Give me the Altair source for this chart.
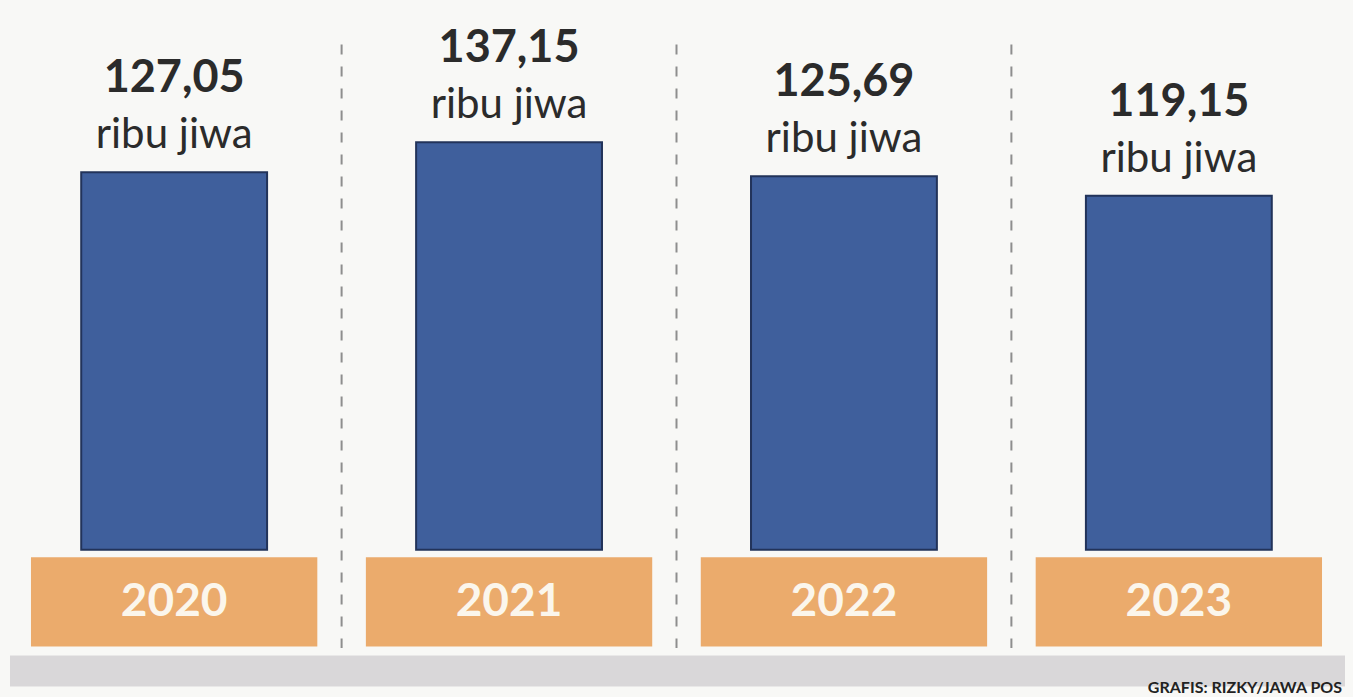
import altair as alt
import pandas as pd

years = ["2020", "2021", "2022", "2023"]
values = [127.05, 137.15, 125.69, 119.15]
value_labels = ["127,05", "137,15", "125,69", "119,15"]
unit_label = "ribu jiwa"
credit = "GRAFIS: RIZKY/JAWA POS"

df = pd.DataFrame({"year": years, "value": values, "label": value_labels, "unit": [unit_label] * 4})
sep = df.iloc[:3]

W, H = 1353, 697
yscale = alt.Scale(domain=[-49.5, 185], nice=False, zero=False)
xscale = alt.Scale(domain=years, paddingInner=0, paddingOuter=0.02)
X = alt.X("year:N", scale=xscale, axis=None)

base = alt.Chart(df)

strip = alt.Chart(df.iloc[:1]).mark_rect(color="#d9d7d9").encode(
    x=alt.value(10), x2=alt.value(1345),
    y=alt.Y(datum=-35.5, scale=yscale, axis=None), y2=alt.datum(-46)
)

seps = alt.Chart(sep).mark_rule(color="#8e8e8e", strokeDash=[10, 12], strokeWidth=2).encode(
    x=alt.X("year:N", scale=xscale, axis=None, bandPosition=1),
    y=alt.Y(datum=170, scale=yscale, axis=None), y2=alt.datum(-33)
)

bars = base.mark_bar(width=alt.RelativeBandSize(0.555), color="#3f5f9c",
                     stroke="#22335a", strokeWidth=2).encode(
    x=X, y=alt.Y("value:Q", scale=yscale, axis=None), y2=alt.datum(0)
)

boxes = base.mark_bar(width=alt.RelativeBandSize(0.855), color="#ebab6c").encode(
    x=X, y=alt.Y(datum=-2.5, scale=yscale, axis=None), y2=alt.datum(-32.5)
)

years_txt = base.mark_text(font="Lato", fontWeight="bold", fontSize=46,
                           color="#fbf6ec", baseline="middle").encode(
    x=X, y=alt.Y(datum=-17.5, scale=yscale, axis=None), text="year:N"
)

val_txt = base.mark_text(font="Lato", fontWeight="bold", fontSize=45,
                         color="#2b2b2b", baseline="alphabetic", dy=-80).encode(
    x=X, y=alt.Y("value:Q", scale=yscale, axis=None), text="label:N"
)

unit_txt = base.mark_text(font="Lato", fontSize=42,
                          color="#2b2b2b", baseline="alphabetic", dy=-24).encode(
    x=X, y=alt.Y("value:Q", scale=yscale, axis=None), text="unit:N"
)

credit_txt = alt.Chart(pd.DataFrame({"t": [credit]})).mark_text(
    font="Lato", fontWeight="bold", fontSize=16, color="#222222",
    align="right", baseline="bottom").encode(
    x=alt.value(1342), y=alt.value(696), text="t:N"
)

chart = alt.layer(strip, seps, bars, boxes, years_txt, val_txt, unit_txt, credit_txt).properties(
    width=W, height=H, padding=0, autosize=alt.AutoSizeParams(type="none"),
    background="#f8f8f6"
).configure_view(stroke=None)

chart.save("out.html", embed_options={"renderer": "svg", "actions": False})
